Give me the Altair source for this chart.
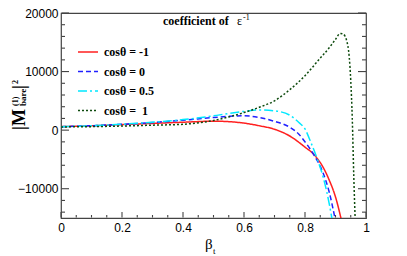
import altair as alt
import pandas as pd

# ---------------- data ----------------
series_names = ["cosθ = -1", "cosθ = 0", "cosθ = 0.5", "cosθ = \u00a01"]
series_colors = ["#ff2020", "#2020ff", "#00e8ff", "#0d4a0d"]
series_dashes = [[1, 0], [5, 3], [9, 3, 2, 3], [2, 2]]

beta_m1 = [0, 0.1, 0.2, 0.3, 0.4, 0.5, 0.55, 0.6, 0.65, 0.7, 0.75, 0.8, 0.83, 0.86, 0.88, 0.9, 0.92]
val_m1 = [600, 750, 950, 1150, 1350, 1530, 1450, 1200, 750, 150, -1000, -2900, -4200, -6400, -8600, -11400, -15500]

beta_0 = [0, 0.1, 0.2, 0.3, 0.4, 0.5, 0.55, 0.6, 0.65, 0.7, 0.75, 0.78, 0.8, 0.83, 0.86, 0.88, 0.9]
val_0 = [600, 750, 1000, 1300, 1700, 2150, 2350, 2450, 2150, 1500, 500, -700, -2000, -4300, -7400, -10700, -15500]

beta_05 = [0, 0.1, 0.2, 0.3, 0.4, 0.5, 0.55, 0.6, 0.65, 0.7, 0.75, 0.78, 0.8, 0.82, 0.84, 0.86, 0.88, 0.89]
val_05 = [600, 750, 1000, 1350, 1800, 2450, 2850, 3200, 3450, 3300, 2550, 1300, 200, -2200, -4900, -8100, -12700, -15600]

beta_1 = [0, 0.1, 0.2, 0.3, 0.4, 0.5, 0.55, 0.6, 0.65, 0.7, 0.75, 0.8, 0.85, 0.88, 0.9, 0.915, 0.925, 0.937, 0.945, 0.95, 0.955, 0.96, 0.965]
val_1 = [550, 600, 700, 850, 1000, 1650, 2250, 3000, 3900, 5000, 6900, 9300, 12300, 14100, 15500, 16500, 16400, 15200, 12500, 8500, 2000, -8000, -16000]

x_major = [0, 0.2, 0.4, 0.6, 0.8, 1]
x_minor = [0.05, 0.1, 0.15, 0.25, 0.3, 0.35, 0.45, 0.5, 0.55, 0.65, 0.7, 0.75, 0.85, 0.9, 0.95]
y_major = [-10000, 0, 10000, 20000]
y_minor = [-14000, -12000, -8000, -6000, -4000, -2000, 2000, 4000, 6000, 8000,
           12000, 14000, 16000, 18000]

rows = []
for name, bs, vs in zip(series_names, [beta_m1, beta_0, beta_05, beta_1], [val_m1, val_0, val_05, val_1]):
    for b, v in zip(bs, vs):
        rows.append({"series": name, "beta": b, "val": v})
df = pd.DataFrame(rows)

W, H = 305, 205
GRAY = "#444444"
X0, X1 = 0.0, 1.0
Y0, Y1 = -15000.0, 20000.0
xs = alt.Scale(domain=[X0, X1], nice=False, zero=False)
ys = alt.Scale(domain=[Y0, Y1], nice=False, zero=False)

legend_kw = dict(title=None, orient="none", legendX=16, legendY=28,
                 symbolType="stroke", symbolSize=400, symbolStrokeWidth=1.5,
                 labelFont="Liberation Serif", labelFontWeight="bold",
                 labelFontSize=12, labelColor="black", labelOffset=5,
                 rowPadding=2.5, padding=0)

lines = alt.Chart(df).mark_line(clip=True, strokeWidth=1.5, interpolate="monotone").encode(
    x=alt.X("beta:Q", scale=xs, axis=alt.Axis(values=x_major, format="~g", ticks=False, domain=False,
                                              grid=False, title=None, labelFont="Liberation Sans",
                                              labelFontSize=12, labelColor="black", labelPadding=4,
                                              labelFlush=False)),
    y=alt.Y("val:Q", scale=ys, axis=alt.Axis(values=y_major, format="d", ticks=False, domain=False,
                                             grid=False, title=None, labelFont="Liberation Sans",
                                             labelFontSize=12, labelColor="black", labelPadding=3,
                                             labelFlush=False)),
    color=alt.Color("series:N", scale=alt.Scale(domain=series_names, range=series_colors),
                    legend=alt.Legend(**legend_kw)),
    strokeDash=alt.StrokeDash("series:N", scale=alt.Scale(domain=series_names, range=series_dashes),
                              legend=alt.Legend(**legend_kw)),
)

# tick lengths converted from pixels to data units (ticks point inward like the reference)
px_x = (X1 - X0) / W
px_y = (Y1 - Y0) / H


def yticks(values, side, length, tag):
    if side == "left":
        a, b = X0 + 0.5 * px_x, X0 + length * px_x
    else:
        a, b = X1 - length * px_x, X1
    d = pd.DataFrame({"v": values, "a": [a] * len(values), "b": [b] * len(values),
                      "tag": [tag] * len(values)})
    return alt.Chart(d).mark_rule(color=GRAY, strokeWidth=1.1).encode(
        y=alt.Y("v:Q", scale=ys, axis=None),
        x=alt.X("a:Q", scale=xs, axis=None), x2="b:Q")


def xticks(values, length, tag):
    a, b = Y0 + 0.5 * px_y, Y0 + length * px_y
    d = pd.DataFrame({"v": values, "a": [a] * len(values), "b": [b] * len(values),
                      "tag": [tag] * len(values)})
    return alt.Chart(d).mark_rule(color=GRAY, strokeWidth=1.1).encode(
        x=alt.X("v:Q", scale=xs, axis=None),
        y=alt.Y("a:Q", scale=ys, axis=None), y2="b:Q")


ticks = [
    yticks(y_major, "left", 8, "lM"), yticks(y_minor, "left", 4, "lm"),
    yticks(y_major, "right", 8, "rM"), yticks(y_minor, "right", 4, "rm"),
    xticks(x_major, 6, "bM"), xticks(x_minor, 3, "bm"),
]

one = pd.DataFrame({"a": [0]})


def label(text, x, y, size, weight="normal", font="Liberation Serif", angle=0, align="left",
          baseline="alphabetic", style="normal"):
    return alt.Chart(one).mark_text(text=text, fontSize=size, fontWeight=weight, font=font,
                                    angle=angle, align=align, baseline=baseline, fontStyle=style,
                                    color="black").encode(x=alt.value(x), y=alt.value(y))


annotations = [
    label("coefficient of", 102, 12, 12, weight="bold"),
    label("ε", 176, 12, 12),
    label("-1", 182, 7, 8),
    # y title  |M^(1)_bare|^2
    label("|M", -36, 117, 18, weight="bold", angle=270),
    label("(1)", -43, 93, 8, weight="bold", angle=270),
    label("bare", -35, 93, 9, weight="bold", angle=270),
    label("|", -36, 76, 18, weight="bold", angle=270),
    label("2", -43, 71, 8, weight="bold", angle=270),
    # x title  beta_t
    label("β", 144, 236, 15),
    label("t", 152, 241, 9),
]

chart = alt.layer(lines, *annotations, *ticks).resolve_axis(
    x="independent", y="independent"
).properties(
    width=W, height=H,
    autosize=alt.AutoSizeParams(type="none"),
    padding={"left": 53, "top": 5, "right": 33, "bottom": 38},
).configure_view(stroke=GRAY, strokeWidth=1.2)

chart.save("out.html", embed_options={"renderer": "svg", "actions": False})
